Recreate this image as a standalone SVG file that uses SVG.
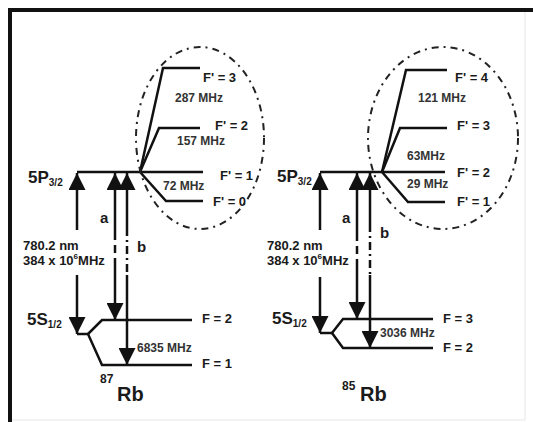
<svg xmlns="http://www.w3.org/2000/svg" width="533" height="422" viewBox="0 0 533 422">
<defs>
<marker id="ah" markerUnits="userSpaceOnUse" markerWidth="17" markerHeight="17" viewBox="0 0 17 17" refX="17" refY="8.5" orient="auto">
<path d="M0,0 L17,8.5 L0,17 Z" fill="#111"/>
</marker>
<style>
.lv{fill:none;stroke:#111;stroke-width:2.5;stroke-linejoin:miter}
.ar{stroke:#111;stroke-width:2.5;fill:none}
.da{stroke:#111;stroke-width:2.5;stroke-dasharray:8 5}
.dd{stroke:#111;stroke-width:2.5;stroke-dasharray:8 4 2 4}
.el{fill:none;stroke:#222;stroke-width:2;stroke-dasharray:7 5 2 5}
text{font-family:"Liberation Sans",Arial,sans-serif;font-weight:bold;fill:#1a1a1a}
.f{font-size:13px}
.m{font-size:12px;fill:#333}
.lab{font-size:13px}
.st{font-size:17px}
.sub{font-size:10px}
.ab{font-size:15px}
.rb{font-size:20px}
.iso{font-size:12px}
</style>
</defs>
<rect x="0" y="0" width="533" height="422" fill="#fff"/>
<g id="frame">
<rect x="8" y="8" width="525" height="4" fill="#111"/>
<rect x="8" y="8" width="4" height="414" fill="#111"/>
<line x1="525" y1="12" x2="525" y2="420" stroke="#e6e6e6" stroke-width="1"/>
<line x1="12" y1="420" x2="525" y2="420" stroke="#e6e6e6" stroke-width="1"/>
</g>
<g id="rb87">
<g id="l87-5P"><polyline class="lv" points="77,172 203,172"/><text class="st" x="28" y="183">5P<tspan class="sub" dy="3">3/2</tspan></text></g>
<g id="l87-F3"><polyline class="lv" points="140,172 163,68 200,68"/><text class="f" x="203" y="82">F' = 3</text><text class="m" x="175" y="102">287 MHz</text></g>
<g id="l87-F2"><polyline class="lv" points="140,172 159,128 200,128"/><text class="f" x="215" y="130">F' = 2</text><text class="m" x="177" y="145">157 MHz</text></g>
<g id="l87-F1"><text class="f" x="220" y="180">F' = 1</text><text class="m" x="163" y="190">72 MHz</text></g>
<g id="l87-F0"><polyline class="lv" points="140,172 166,201 203,201"/><text class="f" x="213" y="206">F' = 0</text></g>
<g id="l87-5S"><polyline class="lv" points="77,334 88,334"/><text class="st" x="27" y="325">5S<tspan class="sub" dy="3">1/2</tspan></text></g>
<g id="l87-Fg2"><polyline class="lv" points="88,334 102,320 192,320"/><text class="lab" x="202" y="323">F = 2</text></g>
<g id="l87-Fg1"><polyline class="lv" points="88,334 102,365 192,365"/><text class="lab" x="202" y="368">F = 1</text><text class="m" x="137" y="352">6835 MHz</text></g>
<ellipse id="e87" class="el" cx="200" cy="138" rx="64" ry="91"/>
<g id="t87"><text class="lab" x="23" y="250">780.2 nm</text><text class="lab" x="23" y="265">384 x 10<tspan font-size="8" dy="-6">6</tspan><tspan dy="6">MHz</tspan></text>
<text class="ab" x="100" y="223">a</text><text class="ab" x="137" y="252">b</text>
<text class="iso" x="100" y="383">87</text><text class="rb" x="117" y="401">Rb</text></g>
</g>
<g id="rb85">
<g id="l85-5P"><polyline class="lv" points="320,172 445,172"/><text class="st" x="277" y="182">5P<tspan class="sub" dy="3">3/2</tspan></text><text class="f" x="457" y="177">F' = 2</text></g>
<g id="l85-F4"><polyline class="lv" points="382,172 406,70 447,70"/><text class="f" x="455" y="82">F' = 4</text><text class="m" x="418" y="102">121 MHz</text></g>
<g id="l85-F3"><polyline class="lv" points="382,172 400,128 447,128"/><text class="f" x="457" y="130">F' = 3</text><text class="m" x="407" y="160">63MHz</text></g>
<g id="l85-F1"><polyline class="lv" points="382,172 408,202 445,202"/><text class="f" x="457" y="206">F' = 1</text><text class="m" x="407" y="188">29 MHz</text></g>
<g id="l85-5S"><polyline class="lv" points="320,333 332,333"/><text class="st" x="272" y="324">5S<tspan class="sub" dy="3">1/2</tspan></text></g>
<g id="l85-Fg3"><polyline class="lv" points="332,333 343,319 433,319"/><text class="lab" x="443" y="323">F = 3</text></g>
<g id="l85-Fg2"><polyline class="lv" points="332,333 343,348 433,348"/><text class="lab" x="443" y="352">F = 2</text><text class="m" x="380" y="337">3036 MHz</text></g>
<ellipse id="e85" class="el" cx="443" cy="138" rx="75" ry="91"/>
<g id="t85"><text class="lab" x="267" y="250">780.2 nm</text><text class="lab" x="267" y="265">384 x 10<tspan font-size="8" dy="-6">6</tspan><tspan dy="6">MHz</tspan></text>
<text class="ab" x="342" y="223">a</text><text class="ab" x="380" y="238">b</text>
<text class="iso" x="342" y="390">85</text><text class="rb" x="360" y="401">Rb</text></g>
</g>
<g id="connectors">
<line class="ar" x1="77" y1="230" x2="77" y2="173" marker-end="url(#ah)"/>
<line class="ar" x1="77" y1="275" x2="77" y2="334" marker-end="url(#ah)"/>
<line class="ar" x1="115" y1="232" x2="115" y2="173" marker-end="url(#ah)"/>
<line class="da" x1="115" y1="232" x2="115" y2="262"/>
<line class="ar" x1="115" y1="262" x2="115" y2="320" marker-end="url(#ah)"/>
<line class="ar" x1="127" y1="228" x2="127" y2="173" marker-end="url(#ah)"/>
<line class="dd" x1="127" y1="228" x2="127" y2="275"/>
<line class="ar" x1="127" y1="275" x2="127" y2="365" marker-end="url(#ah)"/>
<line class="ar" x1="320" y1="230" x2="320" y2="173" marker-end="url(#ah)"/>
<line class="ar" x1="320" y1="277" x2="320" y2="333" marker-end="url(#ah)"/>
<line class="ar" x1="357" y1="233" x2="357" y2="173" marker-end="url(#ah)"/>
<line class="da" x1="357" y1="233" x2="357" y2="265"/>
<line class="ar" x1="357" y1="265" x2="357" y2="319" marker-end="url(#ah)"/>
<line class="ar" x1="370" y1="224" x2="370" y2="173" marker-end="url(#ah)"/>
<line class="dd" x1="370" y1="224" x2="370" y2="275"/>
<line class="ar" x1="370" y1="275" x2="370" y2="348" marker-end="url(#ah)"/>
</g>
</svg>
